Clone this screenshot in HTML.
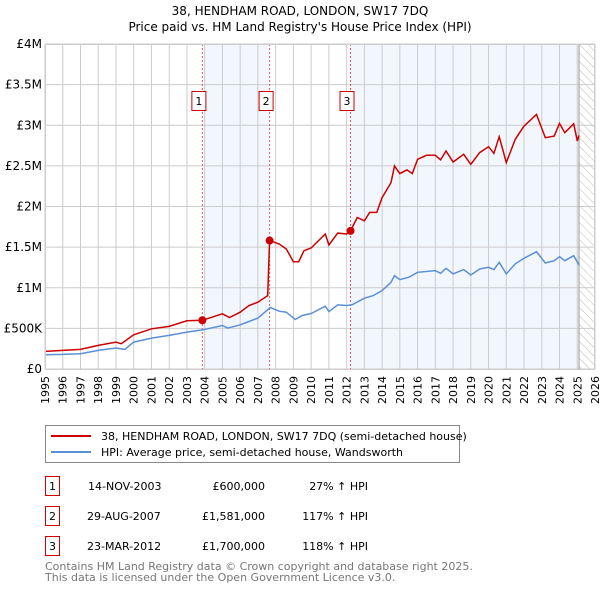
<!DOCTYPE html>
<html><head><meta charset="utf-8"><style>
body{margin:0;background:#fff;font-family:"Liberation Sans","DejaVu Sans",sans-serif;}
svg text{font-family:"DejaVu Sans","Liberation Sans",sans-serif;}
</style></head><body>
<svg id="chart" width="600" height="590" viewBox="0 0 600 590" xmlns="http://www.w3.org/2000/svg">
<defs><pattern id="hatch" width="6" height="6" patternUnits="userSpaceOnUse" patternTransform="rotate(-45)"><line x1="0" y1="0" x2="0" y2="6" stroke="#bbb" stroke-width="1"/></pattern></defs>
<text x="300" y="15" text-anchor="middle" font-size="12">38, HENDHAM ROAD, LONDON, SW17 7DQ</text>
<text x="300" y="31" text-anchor="middle" font-size="12">Price paid vs. HM Land Registry's House Price Index (HPI)</text>
<g id="plot"></g>
<g>
<rect x="45.5" y="425.5" width="414" height="37" fill="#fff" stroke="#888"/>
<line x1="51" y1="436" x2="91" y2="436" stroke="#cc0000" stroke-width="2"/>
<text x="101" y="440" font-size="11">38, HENDHAM ROAD, LONDON, SW17 7DQ (semi-detached house)</text>
<line x1="51" y1="452" x2="91" y2="452" stroke="#5b8fd6" stroke-width="2"/>
<text x="101" y="456" font-size="11">HPI: Average price, semi-detached house, Wandsworth</text>
</g>
<g font-size="11">
<rect x="45.5" y="476.5" width="14" height="19" fill="#fff" stroke="#cc0000"/><text x="52.5" y="490" text-anchor="middle">1</text>
<text x="88" y="490">14-NOV-2003</text><text x="265" y="490" text-anchor="end">£600,000</text><text x="368" y="490" text-anchor="end">27% ↑ HPI</text>
<rect x="45.5" y="506.5" width="14" height="19" fill="#fff" stroke="#cc0000"/><text x="52.5" y="520" text-anchor="middle">2</text>
<text x="87" y="520">29-AUG-2007</text><text x="265" y="520" text-anchor="end">£1,581,000</text><text x="368" y="520" text-anchor="end">117% ↑ HPI</text>
<rect x="45.5" y="536.5" width="14" height="19" fill="#fff" stroke="#cc0000"/><text x="52.5" y="550" text-anchor="middle">3</text>
<text x="87" y="550">23-MAR-2012</text><text x="265" y="550" text-anchor="end">£1,700,000</text><text x="368" y="550" text-anchor="end">118% ↑ HPI</text>
</g>
<text x="45" y="570" font-size="11" fill="#777">Contains HM Land Registry data © Crown copyright and database right 2025.</text>
<text x="45" y="581" font-size="11" fill="#777">This data is licensed under the Open Government Licence v3.0.</text>
</svg>
<script>
const hpiYears=[1995,1996,1997,1998,1999,1999.5,2000,2001,2002,2003,2003.9,2005,2005.3,2006,2006.5,2007,2007.7,2008.2,2008.6,2009.1,2009.5,2010,2010.8,2011,2011.5,2012,2012.3,2013,2013.5,2014,2014.5,2014.7,2015,2015.5,2016,2017,2017.3,2017.6,2018,2018.6,2019,2019.5,2020,2020.3,2020.6,2021,2021.5,2022,2022.7,2023.2,2023.7,2024,2024.3,2024.8,2025.1];
const hpiValues=[176,180,188,229,258,241,331,380,413,454,483,535,503,544,585,626,757,711,699,609,658,683,773,707,789,781,789,871,904,965,1067,1149,1100,1129,1190,1211,1178,1239,1170,1223,1157,1231,1252,1223,1313,1170,1293,1362,1444,1305,1333,1382,1333,1395,1280];
const propYears=[1995,1997,1998,1999,1999.3,2000,2001,2002,2003,2003.87,2005,2005.4,2006,2006.5,2007,2007.55,2007.66,2008.2,2008.6,2009,2009.3,2009.6,2010,2010.8,2011,2011.5,2012,2012.22,2012.6,2013,2013.3,2013.7,2014,2014.5,2014.7,2015,2015.4,2015.7,2016,2016.5,2017,2017.3,2017.6,2018,2018.6,2019,2019.5,2020,2020.3,2020.6,2021,2021.5,2022,2022.7,2023.2,2023.7,2024,2024.3,2024.8,2025.0,2025.1];
const propValues=[217,241,290,331,311,421,495,524,593,600,679,634,699,781,822,904,1581,1538,1477,1321,1321,1456,1489,1661,1526,1673,1661,1700,1865,1824,1927,1927,2110,2294,2499,2405,2450,2405,2581,2630,2630,2573,2683,2548,2642,2519,2663,2736,2655,2859,2540,2826,2990,3133,2847,2867,3023,2908,3018,2806,2875];
const saleYears=[2003.87,2007.66,2012.22];
const saleValues=[600,1581,1700];
const saleLabels=["1","2","3"];
const yTicks=[0,500,1000,1500,2000,2500,3000,3500,4000];
const yTickLabels=["£0","£500K","£1M","£1.5M","£2M","£2.5M","£3M","£3.5M","£4M"];
const xTicks=[1995,1996,1997,1998,1999,2000,2001,2002,2003,2004,2005,2006,2007,2008,2009,2010,2011,2012,2013,2014,2015,2016,2017,2018,2019,2020,2021,2022,2023,2024,2025,2026];
const NS="http://www.w3.org/2000/svg";
const L=45,R=595,T=44,B=369,X0=1995,X1=2026,YMAX=4000;
const xs=v=>L+(v-X0)/(X1-X0)*(R-L);
const ys=v=>B-v/YMAX*(B-T);
const g=document.getElementById('plot');
function mk(tag,attrs,parent){const e=document.createElementNS(NS,tag);for(const k in attrs)e.setAttribute(k,attrs[k]);(parent||g).appendChild(e);return e;}
let e;
e=mk('rect',{x:xs(saleYears[0]),y:T,width:xs(saleYears[1])-xs(saleYears[0]),height:B-T,fill:'#eef3fc',opacity:0.75});


e=mk('rect',{x:xs(saleYears[2]),y:T,width:xs(2025.1)-xs(saleYears[2]),height:B-T,fill:'#eef3fc',opacity:0.75});


e=mk('rect',{x:xs(2025.1),y:T,width:R-xs(2025.1),height:B-T,fill:'url(#hatch)'});


xTicks.forEach(t=>{
 e=mk('line',{x1:xs(t),x2:xs(t),y1:T,y2:B,stroke:'#ccc','stroke-width':1});
 
 
 e=mk('text',{transform:`translate(${xs(t)+4},${B+7}) rotate(-90)`,'text-anchor':'end','font-size':11});
 e.textContent=t;
 
 
});
yTicks.forEach((t,i)=>{
 e=mk('line',{x1:L,x2:R,y1:ys(t),y2:ys(t),stroke:'#ccc','stroke-width':1});
 
 
 e=mk('text',{x:L-3,y:ys(t)+4,'text-anchor':'end','font-size':12});
 e.textContent=yTickLabels[i];
 
 
});
e=mk('line',{x1:xs(2025.1),x2:xs(2025.1),y1:T,y2:B,stroke:'#999','stroke-width':1});


saleYears.forEach((s,i)=>{
 e=mk('line',{x1:xs(s),x2:xs(s),y1:T,y2:B,stroke:'#e55','stroke-width':1,'stroke-dasharray':'2,2'});
 
 
});
function pts(xa,va){return xa.map((x,i)=>xs(x).toFixed(1)+','+ys(va[i]).toFixed(1)).join(' ');}
e=mk('polyline',{points:pts(hpiYears,hpiValues),fill:'none',stroke:'#5b8fd6','stroke-width':1.5});


e=mk('polyline',{points:pts(propYears,propValues),fill:'none',stroke:'#cc0000','stroke-width':1.5});


saleYears.forEach((s,i)=>{
 e=mk('circle',{cx:xs(s),cy:ys(saleValues[i]),r:4,fill:'#cc0000'});
 
 
 e=mk('rect',{x:xs(s)-10.5,y:91.5,width:14,height:19,fill:'#fff',stroke:'#cc0000'});
 
 
 e=mk('text',{x:xs(s)-3.5,y:105,'text-anchor':'middle','font-size':11});
 e.textContent=saleLabels[i];
 
 
});
e=mk('rect',{x:L+0.5,y:T+0.5,width:R-L-1,height:B-T,fill:'none',stroke:'#ccc'});


</script>
</body></html>
